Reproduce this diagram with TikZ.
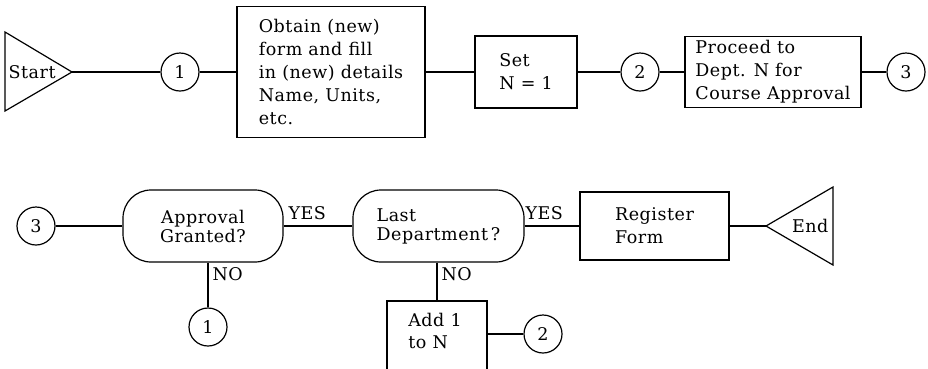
\documentclass[tikz,border=0pt]{standalone}
\usepackage{fontspec}
\setmainfont{DejaVu Serif}
\begin{document}
\begin{tikzpicture}[x=1pt,y=-1pt,line width=1.2pt,
  every node/.style={font=\fontsize{17.5}{23}\selectfont\addfontfeatures{LetterSpace=3}},
  circ/.style={draw,circle,minimum size=38pt,inner sep=0pt},
  box/.style={draw,rectangle,inner sep=0pt,align=left},
  rbox/.style={draw,rectangle,rounded corners=28pt,inner sep=0pt,minimum height=72pt},
  lbl/.style={anchor=west,inner sep=0pt}]
\useasboundingbox (0,0) rectangle (928,368);
\clip (0,0) rectangle (928,368);
% top row
\draw (5,32) -- (72,72) -- (5,111) -- cycle;
\coordinate (startapex) at (72,72);
\node[lbl] (starttxt) at (8,72) {Start};
\node[circ] (c1) at (180,72) {1};
\node[box,minimum width=188pt,minimum height=131pt] (obtain) at (331,72)
  {Obtain (new)\\form and fill\\in (new) details\\Name, Units,\\etc.};
\node[box,minimum width=102pt,minimum height=72pt] (setn) at (526,72) {Set\\N = 1};
\node[circ] (c2) at (640,72) {2};
\node[box,minimum width=176pt,minimum height=71pt] (proceed) at (773,72)
  {Proceed to\\Dept. N for\\Course Approval};
\node[circ] (c3) at (906,72) {3};
\draw (startapex) -- (c1);
\draw (c1) -- (obtain);
\draw (obtain) -- (setn);
\draw (setn) -- (c2);
\draw (c2) -- (proceed);
\draw (proceed) -- (c3);
% bottom row
\node[circ] (c3b) at (36,226) {3};
\node[rbox,minimum width=160pt,align=center,font=\fontsize{17.5}{19}\selectfont\addfontfeatures{LetterSpace=3}] (appr) at (203,226) {Approval\\Granted?};
\node[rbox,minimum width=171pt,align=left,font=\fontsize{17.5}{19}\selectfont\addfontfeatures{LetterSpace=3}] (last) at (438.5,226) {Last\\Department\,?};
\node[box,minimum width=149pt,minimum height=68pt] (reg) at (654.5,226) {Register\\Form};
\draw (766,226) -- (833,187) -- (833,265) -- cycle;
\coordinate (endapex) at (766,226);
\node[anchor=east,inner sep=0pt] (endtxt) at (829,226) {End};
\node[circ] (c1b) at (208,327) {1};
\node[box,minimum width=100pt,minimum height=100pt] (addbox) at (437,351) {};
\node[align=left,inner sep=0pt,font=\fontsize{17.5}{22}\selectfont\addfontfeatures{LetterSpace=3}] (addtxt) at (435,331) {Add 1\\to N};
\node[circ] (c2b) at (543,334) {2};
\draw (c3b) -- (appr);
\draw (appr) -- (last);
\draw (last) -- (reg);
\draw (reg) -- (endapex);
\draw (appr.south -| c1b) -- (c1b);
\draw (addbox.north |- last.south) -- (addbox.north);
\draw (addbox.east |- c2b) -- (c2b);
\node[lbl] (yes1) at (288,213) {YES};
\node[lbl] (yes2) at (525,213) {YES};
\node[lbl] (no1) at (212,274) {NO};
\node[lbl] (no2) at (441,274) {NO};
\end{tikzpicture}
\end{document}
